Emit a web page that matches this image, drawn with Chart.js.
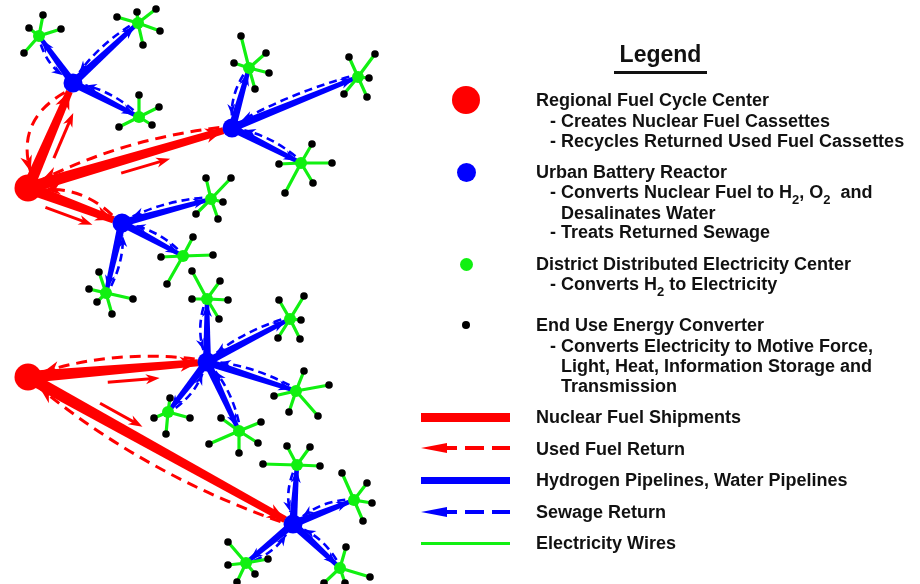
<!DOCTYPE html>
<html>
<head>
<meta charset="utf-8">
<script src="https://cdn.jsdelivr.net/npm/chart.js@4.4.1/dist/chart.umd.min.js"></script>
<style>
body { margin:0; background:#fff; }
#wrap { position:relative; width:920px; height:584px; overflow:hidden; }
#c { position:absolute; left:0; top:0; }
.t { position:absolute; height:20px; line-height:20px; white-space:pre;
     font-family:"Liberation Sans", Arial, sans-serif; font-weight:bold; font-size:18px; color:#111; }
.t sub { font-size:13px; line-height:0; vertical-align:-6px; }
#title { position:absolute; left:614px; width:93px; top:40px; text-align:center;
     font-family:"Liberation Sans", Arial, sans-serif; font-weight:bold; font-size:23px; line-height:28px; color:#111; }
#uline { position:absolute; left:614px; top:71px; width:93px; height:2.5px; background:#111; }
.dot { position:absolute; border-radius:50%; }
.bar { position:absolute; }
.tri { position:absolute; width:0; height:0; }
</style>
</head>
<body>
<div id="wrap">
<canvas id="c" width="920" height="584"></canvas>
<div id="legend"></div>
</div>
<script>
// nodes (x, y in picture units)
const regional = [[28,188],[28,377]];
const reactors = [[73,83],[232,128],[122,223],[207,362],[293,524]];
// district centres: x, y, reactor index
const districts = [
	[39,36,0],[138,23,0],[139,117,0],
	[249,68,1],[358,77,1],[301,163,1],
	[211,199,2],[183,256,2],[106,293,2],
	[207,299,3],[290,319,3],[296,391,3],[239,431,3],[168,412,3],
	[297,465,4],[354,500,4],[340,568,4],[246,563,4]
];
// end use converters: x, y, district index
const endUses = [
	[43,15,0],[29,28,0],[61,29,0],[24,53,0],
	[137,12,1],[117,17,1],[156,9,1],[160,31,1],[143,45,1],
	[139,95,2],[159,107,2],[119,127,2],[152,125,2],
	[241,36,3],[266,53,3],[234,63,3],[269,73,3],[255,89,3],
	[349,57,4],[375,54,4],[369,78,4],[344,94,4],[367,97,4],
	[312,144,5],[279,164,5],[332,163,5],[285,193,5],[313,183,5],
	[206,178,6],[231,178,6],[223,202,6],[196,214,6],[218,219,6],
	[193,237,7],[161,257,7],[213,255,7],[167,284,7],
	[99,272,8],[89,289,8],[97,302,8],[133,299,8],[112,314,8],
	[192,271,9],[220,281,9],[192,299,9],[228,300,9],[219,319,9],
	[279,300,10],[304,296,10],[301,320,10],[278,338,10],[300,339,10],
	[304,371,11],[329,385,11],[274,396,11],[289,412,11],[318,416,11],
	[221,418,12],[261,422,12],[209,444,12],[239,453,12],[258,443,12],
	[170,398,13],[154,418,13],[190,418,13],[166,434,13],
	[287,446,14],[310,447,14],[263,464,14],[320,466,14],
	[342,473,15],[367,483,15],[372,503,15],[363,521,15],
	[346,547,16],[370,577,16],[324,583,16],[345,583,16],
	[228,542,17],[228,565,17],[268,559,17],[255,574,17],[237,582,17]
];
// fuel routes: regional index, reactor index
const fuelRoutes = [[0,0],[0,1],[0,2],[1,3],[1,4]];

// drawing style of each fuel route: side of return, bulge, short arrow span
const routeLook = [[-1,19,0.33,0.76],[-1,10,0.44,0.68],[-1,10,0.23,0.73],[-1,10,0.44,0.73],[1,14,0.25,0.41]];

const RED = "#ff0000", BLUE = "#0000ff", GREEN = "#11f011";

function pt(a){ return {x:a[0], y:a[1]}; }

/* wires: one star per district */
var datasets = [];
districts.forEach(function(d, i){
	var data = [];
	endUses.forEach(function(e){
		if (e[2] == i) { data.push(pt(d)); data.push(pt(e)); }
	});
	data.push(pt(d));
	datasets.push({ data:data, showLine:true, borderColor:GREEN, borderWidth:3.2, pointRadius:0, order:10 });
});
datasets.push({ data:endUses.map(pt), backgroundColor:"#000", borderWidth:0, pointRadius:3.8, order:4 });
datasets.push({ data:districts.map(pt), backgroundColor:GREEN, borderWidth:0, pointRadius:6, order:3 });
datasets.push({ data:reactors.map(pt), backgroundColor:BLUE, borderWidth:0, pointRadius:9.5, order:2 });
datasets.push({ data:regional.map(pt), backgroundColor:RED, borderWidth:0, pointRadius:13.5, order:1 });

function head(ctx, tip, ux, uy, L, W)
{
	ctx.setLineDash([]);
	ctx.beginPath();
	ctx.moveTo(tip[0], tip[1]);
	ctx.lineTo(tip[0]-ux*L-uy*W, tip[1]-uy*L+ux*W);
	ctx.lineTo(tip[0]-ux*L*0.7, tip[1]-uy*L*0.7);
	ctx.lineTo(tip[0]-ux*L+uy*W, tip[1]-uy*L-ux*W);
	ctx.closePath();
	ctx.fill();
}

function drawLink(ctx, A, B, st)
{
	var dx = B[0]-A[0], dy = B[1]-A[1], len = Math.hypot(dx,dy);
	var ux = dx/len, uy = dy/len, nx = -uy, ny = ux, s = st.side;
	ctx.fillStyle = st.color; ctx.strokeStyle = st.color;
	// solid, tapered, with head at the far end
	var E = [B[0]-ux*st.rB, B[1]-uy*st.rB];
	ctx.beginPath();
	ctx.moveTo(A[0]+nx*st.w0/2, A[1]+ny*st.w0/2);
	ctx.lineTo(E[0]+nx*st.w1/2, E[1]+ny*st.w1/2);
	ctx.lineTo(E[0]-nx*st.w1/2, E[1]-ny*st.w1/2);
	ctx.lineTo(A[0]-nx*st.w0/2, A[1]-ny*st.w0/2);
	ctx.closePath();
	ctx.fill();
	head(ctx, E, ux, uy, st.headL, st.headW);
	// dashed return
	var p0 = [B[0]-ux*(st.rB+3)+nx*s*st.off, B[1]-uy*(st.rB+3)+ny*s*st.off];
	var p1 = [A[0]+ux*(st.rA+2)+nx*s*st.off, A[1]+uy*(st.rA+2)+ny*s*st.off];
	var c = [(A[0]+B[0])/2+nx*s*st.bulge*2, (A[1]+B[1])/2+ny*s*st.bulge*2];
	ctx.lineWidth = st.dashW;
	ctx.setLineDash(st.dash);
	ctx.beginPath();
	ctx.moveTo(p0[0], p0[1]);
	ctx.quadraticCurveTo(c[0], c[1], p1[0], p1[1]);
	ctx.stroke();
	var tx = p1[0]-c[0], ty = p1[1]-c[1], tl = Math.hypot(tx,ty);
	head(ctx, p1, tx/tl, ty/tl, st.headL*0.9, st.headW*0.8);
	// short direction arrow on the other side
	if (st.span) {
		var o = -s*st.spanOff;
		var q0 = [A[0]+dx*st.span[0]+nx*o, A[1]+dy*st.span[0]+ny*o];
		var q1 = [A[0]+dx*st.span[1]+nx*o, A[1]+dy*st.span[1]+ny*o];
		ctx.lineWidth = 3;
		ctx.beginPath();
		ctx.moveTo(q0[0], q0[1]);
		ctx.lineTo(q1[0]-ux*6, q1[1]-uy*6);
		ctx.stroke();
		head(ctx, q1, ux, uy, 14, 5);
	}
}

var linksPlugin = {
	id: "links",
	beforeDatasetsDraw: function(chart){
		var ctx = chart.ctx, sx = chart.scales.x, sy = chart.scales.y;
		function P(a){ return [sx.getPixelForValue(a[0]), sy.getPixelForValue(a[1])]; }
		ctx.save();
		ctx.lineCap = "butt";
		districts.forEach(function(d){
			drawLink(ctx, P(reactors[d[2]]), P(d), {
				color:BLUE, w0:8, w1:4.5, rA:10, rB:5, headL:13, headW:5,
				side:-1, off:3.5, bulge:5, dashW:2.6, dash:[8,5]
			});
		});
		fuelRoutes.forEach(function(r, i){
			var lk = routeLook[i];
			drawLink(ctx, P(regional[r[0]]), P(reactors[r[1]]), {
				color:RED, w0:12, w1:7, rA:14, rB:9, headL:18, headW:7.5,
				side:lk[0], off:4, bulge:lk[1], dashW:3, dash:[11,7],
				span:[lk[2], lk[3]], spanOff:12
			});
		});
		ctx.restore();
	}
};

new Chart(document.getElementById("c"), {
	type: "scatter",
	data: { datasets: datasets },
	options: {
		responsive: false,
		animation: false,
		layout: { padding: 0, autoPadding: false },
		scales: {
			x: { type:"linear", min:0, max:920, display:false },
			y: { type:"linear", min:0, max:584, reverse:true, display:false }
		},
		plugins: { legend:{display:false}, tooltip:{enabled:false} }
	},
	plugins: [linksPlugin]
});

/* legend */
const legendLines = [
	[536,100,"Regional Fuel Cycle Center"],
	[550,121,"- Creates Nuclear Fuel Cassettes"],
	[550,141,"- Recycles Returned Used Fuel Cassettes"],
	[536,172,"Urban Battery Reactor"],
	[550,192,"- Converts Nuclear Fuel to H<sub>2</sub>, O<sub>2</sub>  and"],
	[561,213,"Desalinates Water"],
	[550,232,"- Treats Returned Sewage"],
	[536,264,"District Distributed Electricity Center"],
	[550,284,"- Converts H<sub>2</sub> to Electricity"],
	[536,325,"End Use Energy Converter"],
	[550,346,"- Converts Electricity to Motive Force,"],
	[561,366,"Light, Heat, Information Storage and"],
	[561,386,"Transmission"],
	[536,417,"Nuclear Fuel Shipments"],
	[536,449,"Used Fuel Return"],
	[536,480,"Hydrogen Pipelines, Water Pipelines"],
	[536,512,"Sewage Return"],
	[536,543,"Electricity Wires"]
];
var html = '<div id="title">Legend</div><div id="uline"></div>';
legendLines.forEach(function(l){
	html += '<div class="t" style="left:'+l[0]+'px;top:'+(l[1]-10)+'px">'+l[2]+'</div>';
});
function dot(cx, cy, r, col){
	return '<div class="dot" style="left:'+(cx-r)+'px;top:'+(cy-r)+'px;width:'+(2*r)+'px;height:'+(2*r)+'px;background:'+col+'"></div>';
}
function bar(x, cy, w, h, col){
	return '<div class="bar" style="left:'+x+'px;top:'+(cy-h/2)+'px;width:'+w+'px;height:'+h+'px;background:'+col+'"></div>';
}
function dashedArrow(cy, col){
	return '<div class="tri" style="left:421px;top:'+(cy-5)+'px;border-top:5px solid transparent;border-bottom:5px solid transparent;border-right:26px solid '+col+'"></div>'
		+ bar(445, cy, 12, 3.5, col) + bar(465, cy, 19, 3.5, col) + bar(492, cy, 18, 3.5, col);
}
html += dot(466,100,14,RED) + dot(466,172,9.5,BLUE) + dot(466,264,6.5,GREEN) + dot(466,325,4,"#000");
html += bar(421,417,89,9,RED) + dashedArrow(448,RED);
html += bar(421,480,89,7,BLUE) + dashedArrow(512,BLUE);
html += bar(421,543,89,3,GREEN);
document.getElementById("legend").innerHTML = html;
</script>
</body>
</html>
